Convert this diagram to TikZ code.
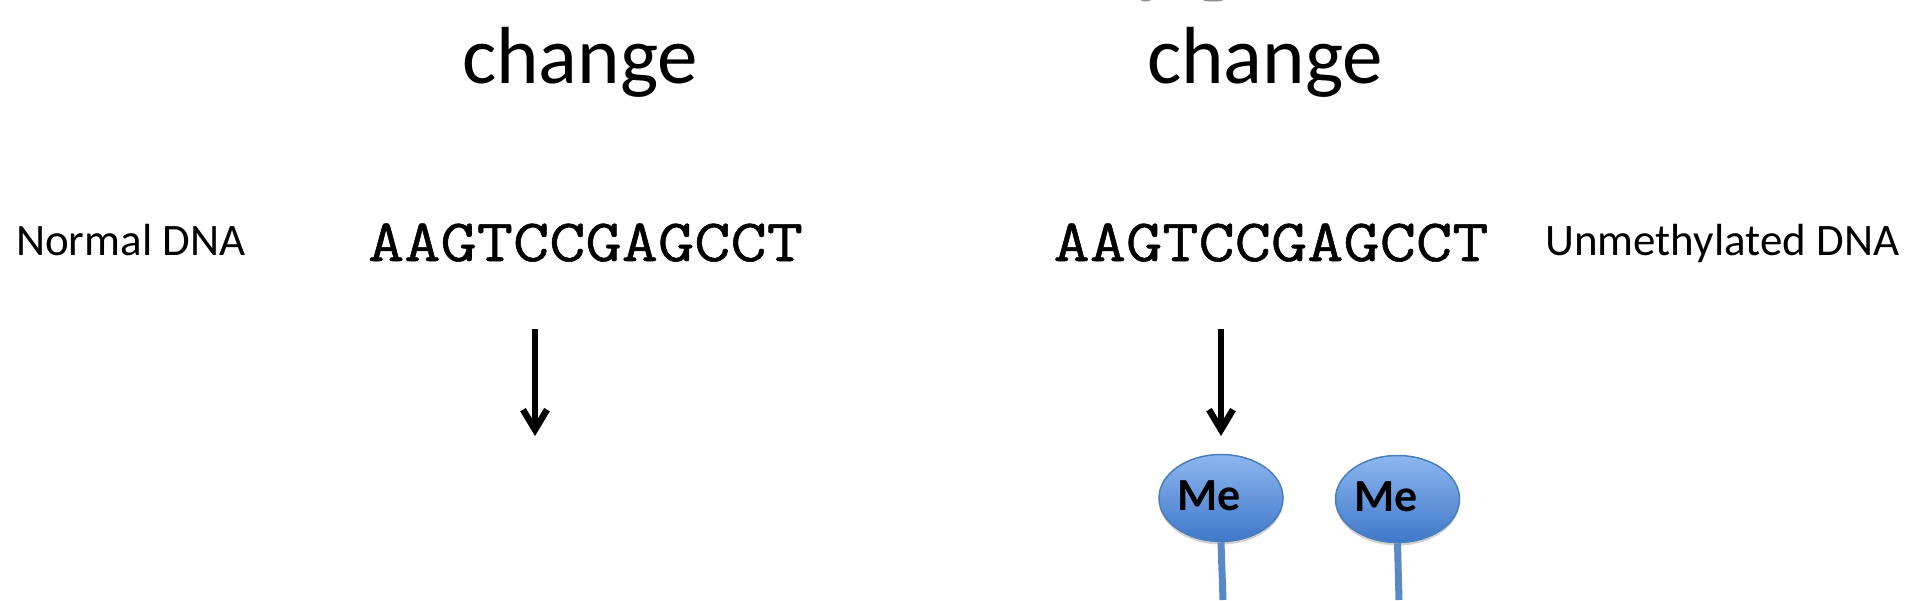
\documentclass[tikz,border=0pt]{standalone}
\usepackage{fontspec}
\usetikzlibrary{arrows.meta,shapes.geometric,shadows}
\setmainfont{Carlito}
\newfontfamily\seqfont[FakeBold=0.9,FakeStretch=1.173]{Latin Modern Mono}
\definecolor{meline}{HTML}{4A7EBB}
\definecolor{stemcol}{HTML}{5A8AC6}
\definecolor{mtop}{HTML}{8DB6F0}
\definecolor{mbot}{HTML}{3F78C9}
\tikzset{
  x=1pt,y=-1pt,
  titletext/.style={inner sep=0pt,anchor=base,font=\fontsize{81}{81}\selectfont},
  sidetext/.style={inner sep=0pt,anchor=base west,font=\fontsize{45}{45}\selectfont},
  metext/.style={inner sep=0pt,anchor=base west,font=\fontsize{46}{46}\selectfont\bfseries},
  seqtext/.style={inner sep=0pt,anchor=base,font=\seqfont\fontsize{60}{60}\selectfont},
  metag/.style={ellipse,draw=meline,line width=1.5pt,minimum width=124pt,minimum height=87pt,inner sep=0pt,top color=mtop,bottom color=mbot,drop shadow={shadow xshift=0pt,shadow yshift=-3pt,opacity=.18,fill=black}},
  downarrow/.style={line width=6pt,-{Straight Barb[length=20pt,width=24pt,line width=6.5pt]}},
  stemline/.style={line width=7pt,draw=stemcol},
  clipped/.style={fill=black!45,draw=none},
}
\begin{document}
\begin{tikzpicture}
\useasboundingbox (0,0) rectangle (1920,600);
\begin{scope}
\clip (0,0) rectangle (1920,600);
\fill[clipped] (1145.5,0) ellipse (5 and 1.5);
\fill[clipped] (1213,0) ellipse (10 and 1.5);
\node[titletext] (t1) at (580,83) {change};
\node[titletext] (t2) at (1265,83) {change};
\node[sidetext] (l1) at (16,255) {Normal DNA};
\node[sidetext] (l2) at (1545,255) {Unmethylated DNA};
\node[seqtext] (s1) at (585.5,261) {AAGTCCGAGCCT};
\node[seqtext] (s2) at (1271,261) {AAGTCCGAGCCT};
\coordinate (a1s) at (535,329);
\coordinate (a1e) at (535,436);
\coordinate (a2s) at (1221,329);
\coordinate (a2e) at (1221,436);
\draw[downarrow] (a1s) -- (a1e);
\draw[downarrow] (a2s) -- (a2e);
\coordinate (b1) at (1223,600);
\coordinate (b2) at (1399,600);
\node[metag] (m1) at (1221,498) {};
\node[metag] (m2) at (1397.5,499) {};
\draw[stemline] (m1.south) -- (b1);
\draw[stemline] (m2.south) -- (b2);
\node[metext] (me1) at (1177,510) {Me};
\node[metext] (me2) at (1354,511) {Me};
\end{scope}
\end{tikzpicture}
\end{document}
